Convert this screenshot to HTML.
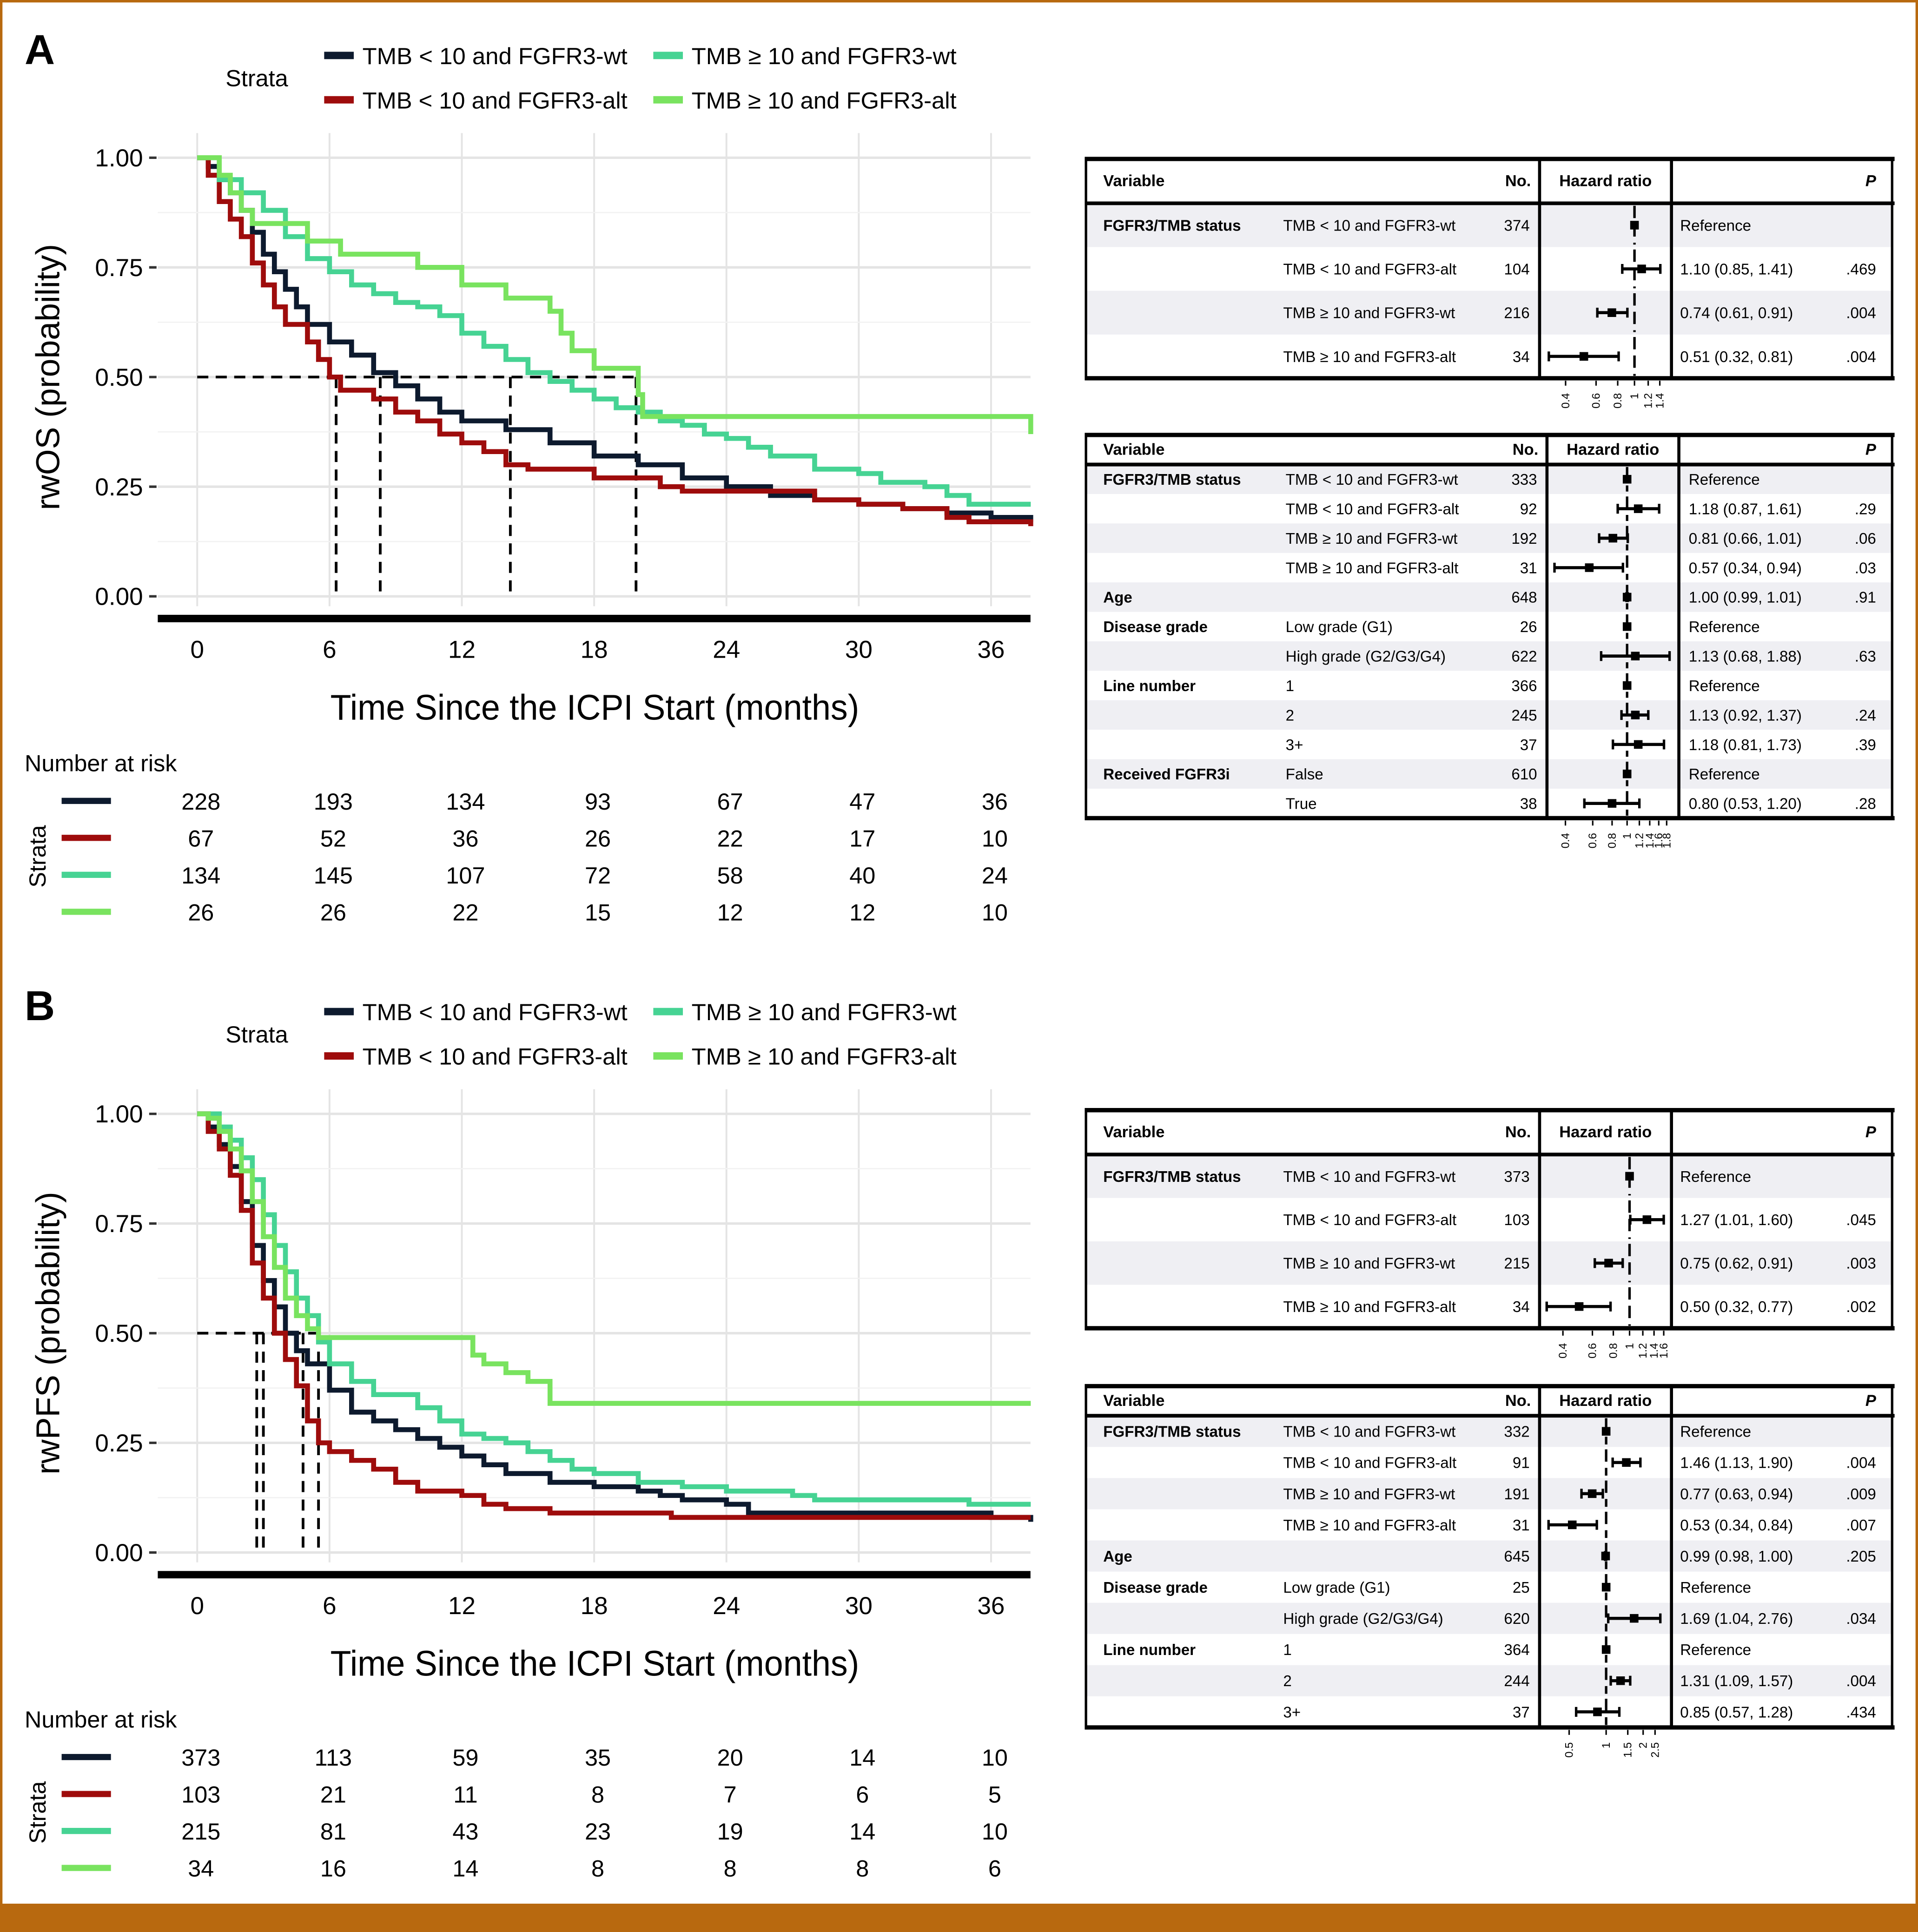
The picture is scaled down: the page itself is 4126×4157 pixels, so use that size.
<!DOCTYPE html>
<html><head><meta charset="utf-8"><style>
html,body{margin:0;padding:0;background:#fff}
svg{display:block}
text{font-family:"Liberation Sans Narrow","Liberation Sans",sans-serif}
</style></head><body>
<svg id="fig" xmlns="http://www.w3.org/2000/svg" width="4126" height="4157" viewBox="0 0 1556 1568" preserveAspectRatio="none">
<rect x="0" y="0" width="1556" height="1568" fill="#fff"/>
<rect x="1" y="1" width="1554" height="1566" fill="none" stroke="#b8690f" stroke-width="2"/>
<rect x="0" y="1545" width="1556" height="23" fill="#b8690f"/>
<g id="root"></g>
</svg>
<script>
// ---------- DATA ----------
const colors = ["#0d1a2e", "#9e0c0c", "#46d393", "#79e35f"];
const strataNames = ["TMB < 10 and FGFR3-wt", "TMB < 10 and FGFR3-alt", "TMB ≥ 10 and FGFR3-wt", "TMB ≥ 10 and FGFR3-alt"];
const xTicks = [0, 6, 12, 18, 24, 30, 36];
const yTicks = [0, 0.25, 0.5, 0.75, 1];
const yTickLabels = ["0.00", "0.25", "0.50", "0.75", "1.00"];

const osTimes0 = [0,0.5,1,1.5,2,2.5,3,3.5,4,4.5,5,6,7,8,9,10,11,12,14,16,18,20,22,24,26,28,30,32,34,36,37.8];
const osSurv0  = [1,0.98,0.95,0.92,0.88,0.83,0.78,0.74,0.70,0.66,0.62,0.58,0.55,0.51,0.48,0.45,0.42,0.40,0.38,0.35,0.32,0.30,0.27,0.25,0.23,0.22,0.21,0.20,0.19,0.18,0.17];
const osTimes1 = [0,0.5,1,1.5,2,2.5,3,3.5,4,5,5.5,6,6.5,8,9,10,11,12,13,14,15,17,18,20,21,22,26,28,30,32,34,35,37.8];
const osSurv1  = [1,0.96,0.90,0.86,0.82,0.76,0.71,0.66,0.62,0.58,0.54,0.50,0.47,0.45,0.42,0.40,0.37,0.35,0.33,0.30,0.29,0.29,0.27,0.27,0.25,0.24,0.24,0.22,0.21,0.20,0.18,0.17,0.16];
const osTimes2 = [0,1,2,3,4,5,6,7,8,9,10,11,12,13,14,15,16,17,18,19,20,21,22,23,24,25,26,28,30,31,33,34,35,37.8];
const osSurv2  = [1,0.95,0.92,0.88,0.82,0.77,0.74,0.71,0.69,0.67,0.66,0.64,0.60,0.57,0.54,0.51,0.49,0.47,0.45,0.43,0.42,0.40,0.39,0.37,0.36,0.34,0.32,0.29,0.28,0.26,0.25,0.23,0.21,0.21];
const osTimes3 = [0,0.5,1,1.5,2,2.5,5,6.5,10,12,14,16,16.5,17,18,20,20.2,37.5,37.8];
const osSurv3  = [1,1,0.96,0.92,0.88,0.85,0.81,0.78,0.75,0.71,0.68,0.65,0.60,0.56,0.52,0.46,0.41,0.41,0.37];
const osMedians = [6.3, 8.3, 14.2, 19.9];

const pfsTimes0 = [0,0.5,1,1.5,2,2.5,3,3.5,4,4.5,5,6,7,8,9,10,11,12,13,14,16,18,20,21,22,24,25,28,32,36,37.8];
const pfsSurv0  = [1,0.97,0.93,0.88,0.80,0.70,0.62,0.56,0.50,0.46,0.43,0.37,0.32,0.30,0.28,0.26,0.24,0.22,0.20,0.18,0.16,0.15,0.14,0.13,0.12,0.11,0.09,0.09,0.09,0.08,0.07];
const pfsTimes1 = [0,0.5,1,1.5,2,2.5,3,3.5,4,4.5,5,5.5,6,7,8,9,10,12,13,14,16,18,21,21.5,37.8];
const pfsSurv1  = [1,0.96,0.92,0.86,0.78,0.66,0.58,0.50,0.44,0.38,0.30,0.25,0.23,0.21,0.19,0.16,0.14,0.13,0.11,0.10,0.09,0.09,0.09,0.08,0.08];
const pfsTimes2 = [0,1,1.5,2,2.5,3,3.5,4,4.5,5,5.5,6,7,8,10,11,12,13,14,15,16,17,18,20,22,24,26,27,28,35,37.8];
const pfsSurv2  = [1,0.97,0.94,0.90,0.85,0.77,0.70,0.64,0.58,0.54,0.48,0.43,0.39,0.36,0.33,0.30,0.27,0.26,0.25,0.23,0.21,0.19,0.18,0.16,0.15,0.14,0.14,0.13,0.12,0.11,0.11];
const pfsTimes3 = [0,0.5,1,1.5,2,2.5,3,3.5,4,4.5,5,5.5,12,12.5,13,14,15,16,37.8];
const pfsSurv3  = [1,0.99,0.96,0.92,0.87,0.80,0.72,0.65,0.58,0.54,0.51,0.49,0.49,0.45,0.43,0.41,0.39,0.34,0.34];
const pfsMedians = [2.7, 3.0, 4.8, 5.5];

const osRisk = [[228,193,134,93,67,47,36],[67,52,36,26,22,17,10],[134,145,107,72,58,40,24],[26,26,22,15,12,12,10]];
const pfsRisk = [[373,113,59,35,20,14,10],[103,21,11,8,7,6,5],[215,81,43,23,19,14,10],[34,16,14,8,8,8,6]];

// forest tables
const f1Group = ["FGFR3/TMB status","","",""];
const f1Sub = strataNames;
const f1N = [374,104,216,34];
const f1HR = [1,1.10,0.74,0.51];
const f1Lo = [1,0.85,0.61,0.32];
const f1Hi = [1,1.41,0.91,0.81];
const f1Txt = ["Reference","1.10 (0.85, 1.41)","0.74 (0.61, 0.91)","0.51 (0.32, 0.81)"];
const f1P = ["",".469",".004",".004"];
const f1Ticks = [0.4,0.6,0.8,1,1.2,1.4];

const f2Group = ["FGFR3/TMB status","","","","Age","Disease grade","","Line number","","","Received FGFR3i",""];
const f2Sub = ["TMB < 10 and FGFR3-wt","TMB < 10 and FGFR3-alt","TMB ≥ 10 and FGFR3-wt","TMB ≥ 10 and FGFR3-alt","","Low grade (G1)","High grade (G2/G3/G4)","1","2","3+","False","True"];
const f2N = [333,92,192,31,648,26,622,366,245,37,610,38];
const f2HR = [1,1.18,0.81,0.57,1.00,1,1.13,1,1.13,1.18,1,0.80];
const f2Lo = [1,0.87,0.66,0.34,0.99,1,0.68,1,0.92,0.81,1,0.53];
const f2Hi = [1,1.61,1.01,0.94,1.01,1,1.88,1,1.37,1.73,1,1.20];
const f2Txt = ["Reference","1.18 (0.87, 1.61)","0.81 (0.66, 1.01)","0.57 (0.34, 0.94)","1.00 (0.99, 1.01)","Reference","1.13 (0.68, 1.88)","Reference","1.13 (0.92, 1.37)","1.18 (0.81, 1.73)","Reference","0.80 (0.53, 1.20)"];
const f2P = ["",".29",".06",".03",".91","",".63","",".24",".39","",".28"];
const f2Ticks = [0.4,0.6,0.8,1,1.2,1.4,1.6,1.8];

const f3N = [373,103,215,34];
const f3HR = [1,1.27,0.75,0.50];
const f3Lo = [1,1.01,0.62,0.32];
const f3Hi = [1,1.60,0.91,0.77];
const f3Txt = ["Reference","1.27 (1.01, 1.60)","0.75 (0.62, 0.91)","0.50 (0.32, 0.77)"];
const f3P = ["",".045",".003",".002"];
const f3Ticks = [0.4,0.6,0.8,1,1.2,1.4,1.6];

const f4Group = ["FGFR3/TMB status","","","","Age","Disease grade","","Line number","",""];
const f4Sub = ["TMB < 10 and FGFR3-wt","TMB < 10 and FGFR3-alt","TMB ≥ 10 and FGFR3-wt","TMB ≥ 10 and FGFR3-alt","","Low grade (G1)","High grade (G2/G3/G4)","1","2","3+"];
const f4N = [332,91,191,31,645,25,620,364,244,37];
const f4HR = [1,1.46,0.77,0.53,0.99,1,1.69,1,1.31,0.85];
const f4Lo = [1,1.13,0.63,0.34,0.98,1,1.04,1,1.09,0.57];
const f4Hi = [1,1.90,0.94,0.84,1.00,1,2.76,1,1.57,1.28];
const f4Txt = ["Reference","1.46 (1.13, 1.90)","0.77 (0.63, 0.94)","0.53 (0.34, 0.84)","0.99 (0.98, 1.00)","Reference","1.69 (1.04, 2.76)","Reference","1.31 (1.09, 1.57)","0.85 (0.57, 1.28)"];
const f4P = ["",".004",".009",".007",".205","",".034","",".004",".434"];
const f4Ticks = [0.5,1,1.5,2,2.5];

// ---------- RENDER ----------
const NS = "http://www.w3.org/2000/svg";
const root = document.getElementById("root");
function el(tag, attrs, parent, txt) {
  const e = document.createElementNS(NS, tag);
  for (const k in attrs) e.setAttribute(k, attrs[k]);
  if (txt !== undefined) e.textContent = txt;
  (parent || root).appendChild(e);
  return e;
}

function kmPanel(oy, letter, ylabel, times, survs, medians, risk) {
  const g = el("g", {});
  
  
  const X = t => 160 + t * (644 / 36);
  const Y = s => oy + 128 + (1 - s) * 356;
  const t1 = el("text", {x:20, y:oy+52, "font-size":34, "font-weight":"bold", "font-family":"Liberation Sans, sans-serif"}, g, letter);
  
  
  const lt = el("text", {x:183, y:oy+70, "font-size":19}, g, "Strata");
  
  
  for (let i = 0; i < 4; i++) {
    const lx = i < 2 ? 263 : 530, ly = oy + (i % 2 === 0 ? 45 : 81);
    const le = el("g", {}, g);
    
    
    el("rect", {x:lx, y:ly-3, width:24, height:6, fill:colors[i]}, le);
    el("text", {x:lx+31, y:ly+7, "font-size":19, textLength:215, lengthAdjust:"spacingAndGlyphs"}, le, strataNames[i]);
  }
  xTicks.forEach(t => el("line", {x1:X(t), x2:X(t), y1:oy+108, y2:oy+492, stroke:"#e4e4e4", "stroke-width":1.5}, g));
  [0.125,0.375,0.625,0.875].forEach(s => el("line", {x1:128, x2:836, y1:Y(s), y2:Y(s), stroke:"#f2f2f2", "stroke-width":1}, g));
  yTicks.forEach((s, i) => {
    el("line", {x1:128, x2:836, y1:Y(s), y2:Y(s), stroke:"#e4e4e4", "stroke-width":2}, g);
    el("line", {x1:121, x2:127, y1:Y(s), y2:Y(s), stroke:"#333", "stroke-width":2}, g);
    const tl = el("text", {x:116, y:Y(s)+7, "font-size":20, "text-anchor":"end"}, g, yTickLabels[i]);
    
    
  });
  const ax = el("line", {x1:128, x2:836, y1:oy+502, y2:oy+502, stroke:"#000", "stroke-width":6}, g);
  
  
  xTicks.forEach(t => {
    const tl = el("text", {x:X(t), y:oy+534, "font-size":20, "text-anchor":"middle"}, g, String(t));
    
    
  });
  const xt = el("text", {x:268, y:oy+584, "font-size":29, textLength:429, lengthAdjust:"spacingAndGlyphs"}, g, "Time Since the ICPI Start (months)");
  
  
  const yt = el("text", {x:0, y:0, "font-size":27, "text-anchor":"middle", transform:`translate(48,${oy+306}) rotate(-90)`}, g, ylabel);
  
  
  const maxM = Math.max(...medians);
  el("line", {x1:X(0), x2:X(maxM), y1:Y(0.5), y2:Y(0.5), stroke:"#000", "stroke-width":2.2, "stroke-dasharray":"9,6"}, g);
  medians.forEach(m => el("line", {x1:X(m), x2:X(m), y1:Y(0.5), y2:Y(0), stroke:"#000", "stroke-width":2.2, "stroke-dasharray":"9,6"}, g));
  for (let i = 0; i < 4; i++) {
    const ts = times[i], ss = survs[i];
    let d = `M${X(ts[0])},${Y(ss[0])}`;
    for (let j = 1; j < ts.length; j++) d += ` H${X(ts[j])} V${Y(ss[j])}`;
    const p = el("path", {d:d, fill:"none", stroke:colors[i], "stroke-width":4, "stroke-linejoin":"miter"}, g);
    
    
  }
  const rt = el("text", {x:20, y:oy+626, "font-size":19}, g, "Number at risk");
  
  
  el("text", {x:0, y:0, "font-size":19, "text-anchor":"middle", transform:`translate(37,${oy+695}) rotate(-90)`}, g, "Strata");
  for (let i = 0; i < 4; i++) {
    const ry = oy + 650 + i * 30;
    el("rect", {x:50, y:ry-2.5, width:40, height:5, fill:colors[i]}, g);
    risk[i].forEach((v, j) => {
      const c = el("text", {x:X(xTicks[j])+3, y:ry+7, "font-size":19, "text-anchor":"middle"}, g, String(v));
      
      
    });
  }
}

function forest(cfg) {
  const {y0, y1, hdrH, vx1, vx2, refX, scale, group, sub, n, hr, lo, hi, txt, p, ticks, subX, nX, hrX, fs, name} = cfg;
  const g = el("g", {});
  
  
  const rows = n.length;
  const rh = (y1 - y0 - hdrH) / rows;
  const FX = v => refX + scale * Math.log(v);
  for (let i = 0; i < rows; i++) {
    if (i % 2 === 0) el("rect", {x:882, y:y0+hdrH+i*rh, width:652, height:rh, fill:"#efeff3"}, g);
  }
  const hy = y0 + hdrH / 2 + 4;
  el("text", {x:895, y:hy, "font-size":13, "font-weight":"bold"}, g, "Variable");
  el("text", {x:vx1-7, y:hy, "font-size":13, "font-weight":"bold", "text-anchor":"end"}, g, "No.");
  el("text", {x:(vx1+vx2)/2, y:hy, "font-size":13, "font-weight":"bold", "text-anchor":"middle"}, g, "Hazard ratio");
  el("text", {x:1522, y:hy, "font-size":13, "font-weight":"bold", "font-style":"italic", "text-anchor":"end"}, g, "P");
  for (let i = 0; i < rows; i++) {
    const cy = y0 + hdrH + (i + 0.5) * rh;
    const ty = cy + 4.5;
    if (group[i]) el("text", {x:895, y:ty, "font-size":fs, "font-weight":"bold"}, g, group[i]);
    if (sub[i]) el("text", {x:subX, y:ty, "font-size":fs}, g, sub[i]);
    el("text", {x:nX, y:ty, "font-size":fs, "text-anchor":"end"}, g, String(n[i]));
    el("text", {x:hrX, y:ty, "font-size":fs}, g, txt[i]);
    el("text", {x:1522, y:ty, "font-size":fs, "text-anchor":"end"}, g, p[i]);
    el("line", {x1:refX, x2:refX, y1:cy-rh/2+2, y2:cy+rh/2-2, stroke:"#000", "stroke-width":2, "stroke-dasharray":"10,5"}, g);
    const ci = el("line", {x1:FX(lo[i]), x2:FX(hi[i]), y1:cy, y2:cy, stroke:"#000", "stroke-width":2.5}, g);
    
    
    if (hi[i] > lo[i]) {
      el("line", {x1:FX(lo[i]), x2:FX(lo[i]), y1:cy-4, y2:cy+4, stroke:"#000", "stroke-width":2}, g);
      el("line", {x1:FX(hi[i]), x2:FX(hi[i]), y1:cy-4, y2:cy+4, stroke:"#000", "stroke-width":2}, g);
    }
    const pt = el("rect", {x:FX(hr[i])-3.5, y:cy-3.5, width:7, height:7, fill:"#000"}, g);
    
    
  }
  el("rect", {x:881, y:y0, width:654, height:y1-y0, fill:"none", stroke:"#000", "stroke-width":2}, g);
  el("line", {x1:880, x2:1537, y1:y0, y2:y0, stroke:"#000", "stroke-width":3.5}, g);
  el("line", {x1:880, x2:1537, y1:y1, y2:y1, stroke:"#000", "stroke-width":3.5}, g);
  el("line", {x1:880, x2:1537, y1:y0+hdrH, y2:y0+hdrH, stroke:"#000", "stroke-width":3}, g);
  el("line", {x1:vx1, x2:vx1, y1:y0, y2:y1, stroke:"#000", "stroke-width":2.5}, g);
  el("line", {x1:vx2, x2:vx2, y1:y0, y2:y1, stroke:"#000", "stroke-width":2.5}, g);
  ticks.forEach(t => {
    el("line", {x1:FX(t), x2:FX(t), y1:y1+2, y2:y1+6, stroke:"#000", "stroke-width":1.2}, g);
    el("text", {x:0, y:0, "font-size":9, "text-anchor":"end", transform:`translate(${FX(t)+3},${y1+12}) rotate(-90)`}, g, String(t));
  });
}

kmPanel(0, "A", "rwOS (probability)", [osTimes0,osTimes1,osTimes2,osTimes3], [osSurv0,osSurv1,osSurv2,osSurv3], osMedians, osRisk);
kmPanel(776, "B", "rwPFS (probability)", [pfsTimes0,pfsTimes1,pfsTimes2,pfsTimes3], [pfsSurv0,pfsSurv1,pfsSurv2,pfsSurv3], pfsMedians, pfsRisk);

forest({name:"forest-os-unadjusted", y0:129, y1:307, hdrH:36, vx1:1249, vx2:1356, refX:1326, scale:61, group:f1Group, sub:f1Sub, n:f1N, hr:f1HR, lo:f1Lo, hi:f1Hi, txt:f1Txt, p:f1P, ticks:f1Ticks, subX:1041, nX:1241, hrX:1363, fs:12.5});
forest({name:"forest-os-adjusted", y0:353, y1:664, hdrH:24, vx1:1255, vx2:1362, refX:1320, scale:54.6, group:f2Group, sub:f2Sub, n:f2N, hr:f2HR, lo:f2Lo, hi:f2Hi, txt:f2Txt, p:f2P, ticks:f2Ticks, subX:1043, nX:1247, hrX:1370, fs:12.5});
forest({name:"forest-pfs-unadjusted", y0:901, y1:1078, hdrH:36, vx1:1249, vx2:1356, refX:1322, scale:59, group:f1Group, sub:f1Sub, n:f3N, hr:f3HR, lo:f3Lo, hi:f3Hi, txt:f3Txt, p:f3P, ticks:f3Ticks, subX:1041, nX:1241, hrX:1363, fs:12.5});
forest({name:"forest-pfs-adjusted", y0:1125, y1:1402, hdrH:24, vx1:1249, vx2:1356, refX:1303, scale:43.3, group:f4Group, sub:f4Sub, n:f4N, hr:f4HR, lo:f4Lo, hi:f4Hi, txt:f4Txt, p:f4P, ticks:f4Ticks, subX:1041, nX:1241, hrX:1363, fs:12.5});
</script>
</body></html>
